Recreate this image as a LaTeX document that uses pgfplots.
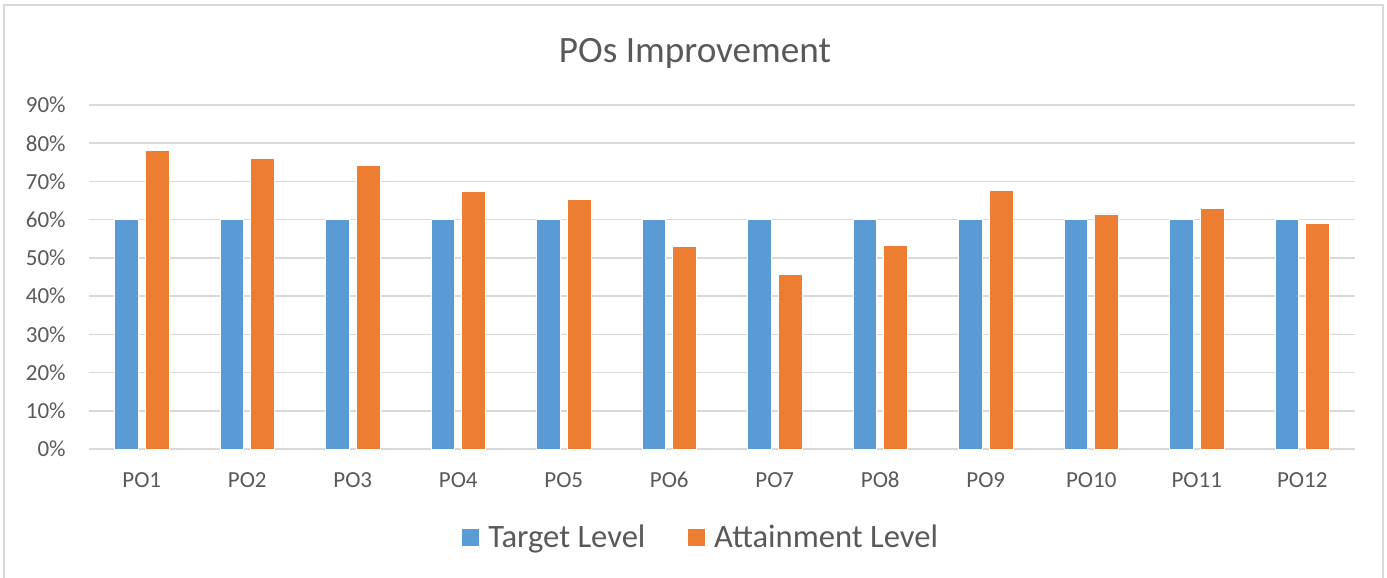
\documentclass[border=0pt]{standalone}
\usepackage{pgfplots}
\pgfplotsset{compat=1.18}
\usepackage{fontspec}
\setmainfont{Carlito}
\definecolor{tblue}{HTML}{5B9BD5}
\definecolor{torange}{HTML}{ED7D31}
\definecolor{gridc}{HTML}{D9D9D9}
\definecolor{txt}{HTML}{595959}
\begin{document}
\begin{tikzpicture}[x=1pt,y=1pt]
\path[use as bounding box] (0,0) rectangle (693.5,-289);
\draw[gridc, line width=0.8pt] (2,-300) -- (2,-2.5) -- (691.5,-2.5) -- (691.5,-300);
\node[text=txt, font=\fontsize{18.6}{21}\selectfont, anchor=base] at (347.5,-31) {POs Improvement};
\begin{axis}[
  at={(44.5pt,-224.5pt)}, anchor=south west,
  scale only axis, width=633pt, height=172pt,
  ymin=0, ymax=90, xmin=-0.5, xmax=11.5,
  ybar,
  ytick={0,10,...,90},
  yticklabel={\pgfmathprintnumber{\tick}\%},
  xtick={0,...,11},
  xticklabels={PO1,PO2,PO3,PO4,PO5,PO6,PO7,PO8,PO9,PO10,PO11,PO12},
  /pgf/number format/assume math mode=true,
  ymajorgrids, grid style={gridc, line width=0.75pt},
  axis lines*=left,
  y axis line style={draw=none},
  x axis line style={gridc, line width=0.75pt, -},
  major tick length=0pt,
  tick style={draw=none},
  ticklabel style={text=txt, font=\fontsize{11.5}{13}\selectfont},
  yticklabel style={anchor=east, inner sep=0pt, xshift=-11.5pt},
  xticklabel style={anchor=center, inner sep=0pt, yshift=-15.5pt},
  legend style={at={(0.484,-0.2587)}, anchor=center, draw=none, fill=none,
    legend columns=2, font=\fontsize{16.3}{18}\selectfont, text=txt,
    /tikz/every even column/.append style={column sep=19pt}},
  legend image code/.code={\fill[#1] (0pt,-4pt) rectangle (9pt,5pt); \path (11pt,0pt);},
]
\addplot[fill=tblue, draw=white, line width=0.4pt, bar width=0.225, bar shift=-0.145]
  coordinates {(0,60) (1,60) (2,60) (3,60) (4,60) (5,60) (6,60) (7,60) (8,60) (9,60) (10,60) (11,60)};
\addplot[fill=torange, draw=white, line width=0.4pt, bar width=0.225, bar shift=0.145]
  coordinates {(0,78.1) (1,76.1) (2,74.1) (3,67.4) (4,65.2) (5,53.1) (6,45.6) (7,53.2) (8,67.6) (9,61.5) (10,62.9) (11,59.1)};
\legend{Target Level, Attainment Level}
\end{axis}
\end{tikzpicture}
\end{document}
